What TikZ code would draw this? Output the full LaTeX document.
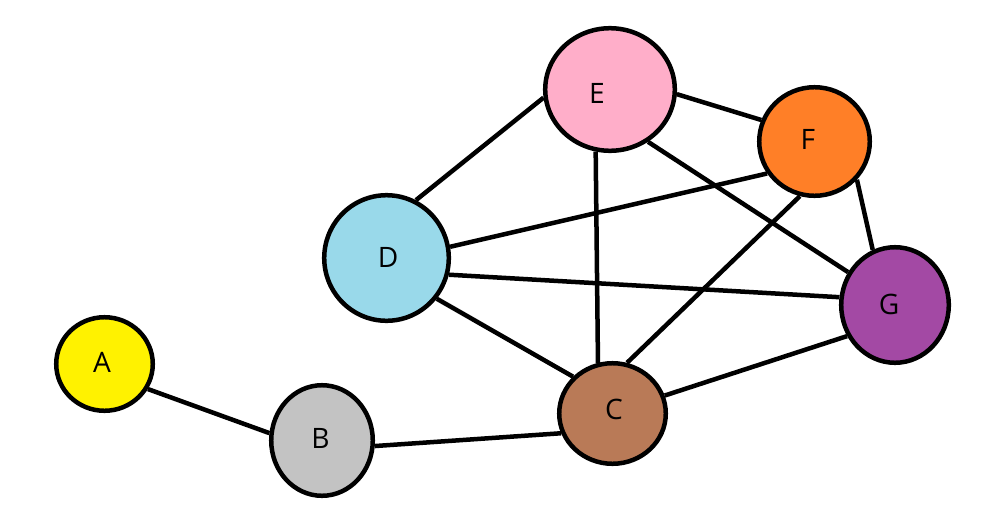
\documentclass[tikz,border=0pt]{standalone}
\usepackage{fontspec}
\setmainfont{Open Sans}
\usepackage{tikz}
\usetikzlibrary{shapes.geometric}

\definecolor{cA}{HTML}{FFF200}
\definecolor{cB}{HTML}{C3C3C3}
\definecolor{cC}{HTML}{B97A57}
\definecolor{cD}{HTML}{99D9EA}
\definecolor{cE}{HTML}{FFAEC9}
\definecolor{cF}{HTML}{FF7F27}
\definecolor{cG}{HTML}{A349A4}

\begin{document}
\begin{tikzpicture}[x=0.01cm,y=-0.01cm,line width=0.045cm]
  \tikzstyle{vertex}=[ellipse, draw=black, inner sep=0pt]
  \tikzstyle{every label}=[font=\fontsize{8}{10}\selectfont, inner sep=0pt]
  \useasboundingbox (0,0) rectangle (991,515);

    \node[vertex, fill=cA, minimum width=0.965cm, minimum height=0.935cm,
          label={[xshift=-0.025cm,yshift=0.02cm]center:A}]  (A) at (104.5,364) {};
    \node[vertex, fill=cB, minimum width=1.015cm, minimum height=1.105cm,
          label={[xshift=-0.015cm,yshift=0.025cm]center:B}] (B) at (322,440.5) {};
    \node[vertex, fill=cC, minimum width=1.065cm, minimum height=1.005cm,
          label={[xshift=0.015cm,yshift=0.045cm]center:C}]  (C) at (612.5,413.5) {};
    \node[vertex, fill=cD, minimum width=1.245cm, minimum height=1.255cm,
          label={[xshift=0.015cm,yshift=0.01cm]center:D}]   (D) at (386.5,258) {};
    \node[vertex, fill=cE, minimum width=1.295cm, minimum height=1.225cm,
          label={[xshift=-0.13cm,yshift=-0.035cm]center:E}] (E) at (610,89.5) {};
    \node[vertex, fill=cF, minimum width=1.105cm, minimum height=1.085cm,
          label={[xshift=-0.065cm,yshift=0.025cm]center:F}] (F) at (814.5,141.5) {};
    \node[vertex, fill=cG, minimum width=1.075cm, minimum height=1.155cm,
          label={[xshift=-0.06cm,yshift=0.01cm]center:G}]   (G) at (895,305) {};

    \path[draw]
     (A.330) edge (B.172)
     (B.354) edge (C.201)
     (C.137) edge (D.321)
     (C.106) edge (E.257)
     (C.74)  edge (F.255)
     (C.19)  edge (G.213)
     (D.63)  edge (E.187)
     (D.10)  edge (F.214)
     (D.345) edge (G.172)
     (E.356) edge (F.158)
     (E.306) edge (G.145)
     (F.318) edge (G.112);
\end{tikzpicture}
\end{document}
